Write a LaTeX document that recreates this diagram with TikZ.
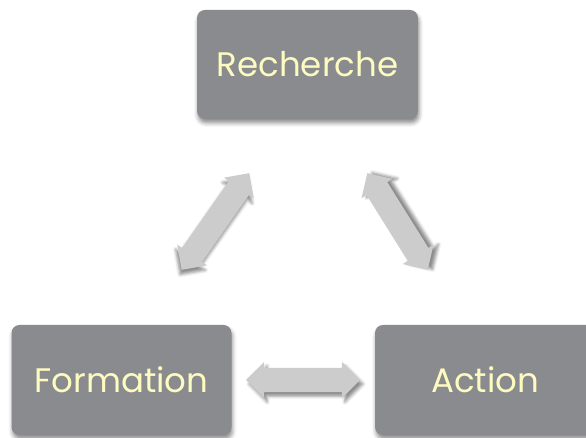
\documentclass[tikz,border=0pt]{standalone}
\usepackage{fontspec}
\setmainfont{Poppins}
\usetikzlibrary{shapes.arrows,shadows.blur}
\definecolor{boxgray}{HTML}{8A8B8F}
\definecolor{boxtext}{HTML}{FDFBC0}
\definecolor{arrgray}{HTML}{CBCCCB}
\begin{document}
\begin{tikzpicture}[x=1pt,y=1pt,
  stagebox/.style={rectangle, rounded corners=8pt, fill=boxgray, draw=none,
    minimum width=220pt, minimum height=110pt, inner sep=0pt,
    text=boxtext, font=\fontsize{34}{38}\selectfont,
    blur shadow={shadow xshift=1pt, shadow yshift=-4pt, shadow blur radius=4pt, shadow opacity=45}},
  linkarrow/.style={double arrow, fill=arrgray, draw=none, inner xsep=0pt, inner ysep=12pt,
    double arrow head extend=6pt, double arrow tip angle=90},
  arrshadow/.style 2 args={blur shadow={shadow xshift=#1, shadow yshift=#2, shadow blur radius=3pt, shadow opacity=45}}]
\useasboundingbox (0,0) rectangle (586,438);
\node[stagebox, minimum width=221pt, minimum height=109pt] (rech) at (307.5,373.5) {Recherche};
\node[stagebox] (form) at (121.5,58) {Formation};
\node[stagebox] (act) at (485,58) {Action};
\node[linkarrow, arrshadow={3pt}{-4pt}, minimum height=114pt] (af) at (303,58) {};
\node[linkarrow, arrshadow={-1.56pt}{-4.75pt}, minimum height=118pt, rotate=55] (al) at (215.5,216.5) {};
\node[linkarrow, arrshadow={4.98pt}{0.42pt}, minimum height=114pt, rotate=-58] (ar) at (397.5,216.5) {};
\end{tikzpicture}
\end{document}
